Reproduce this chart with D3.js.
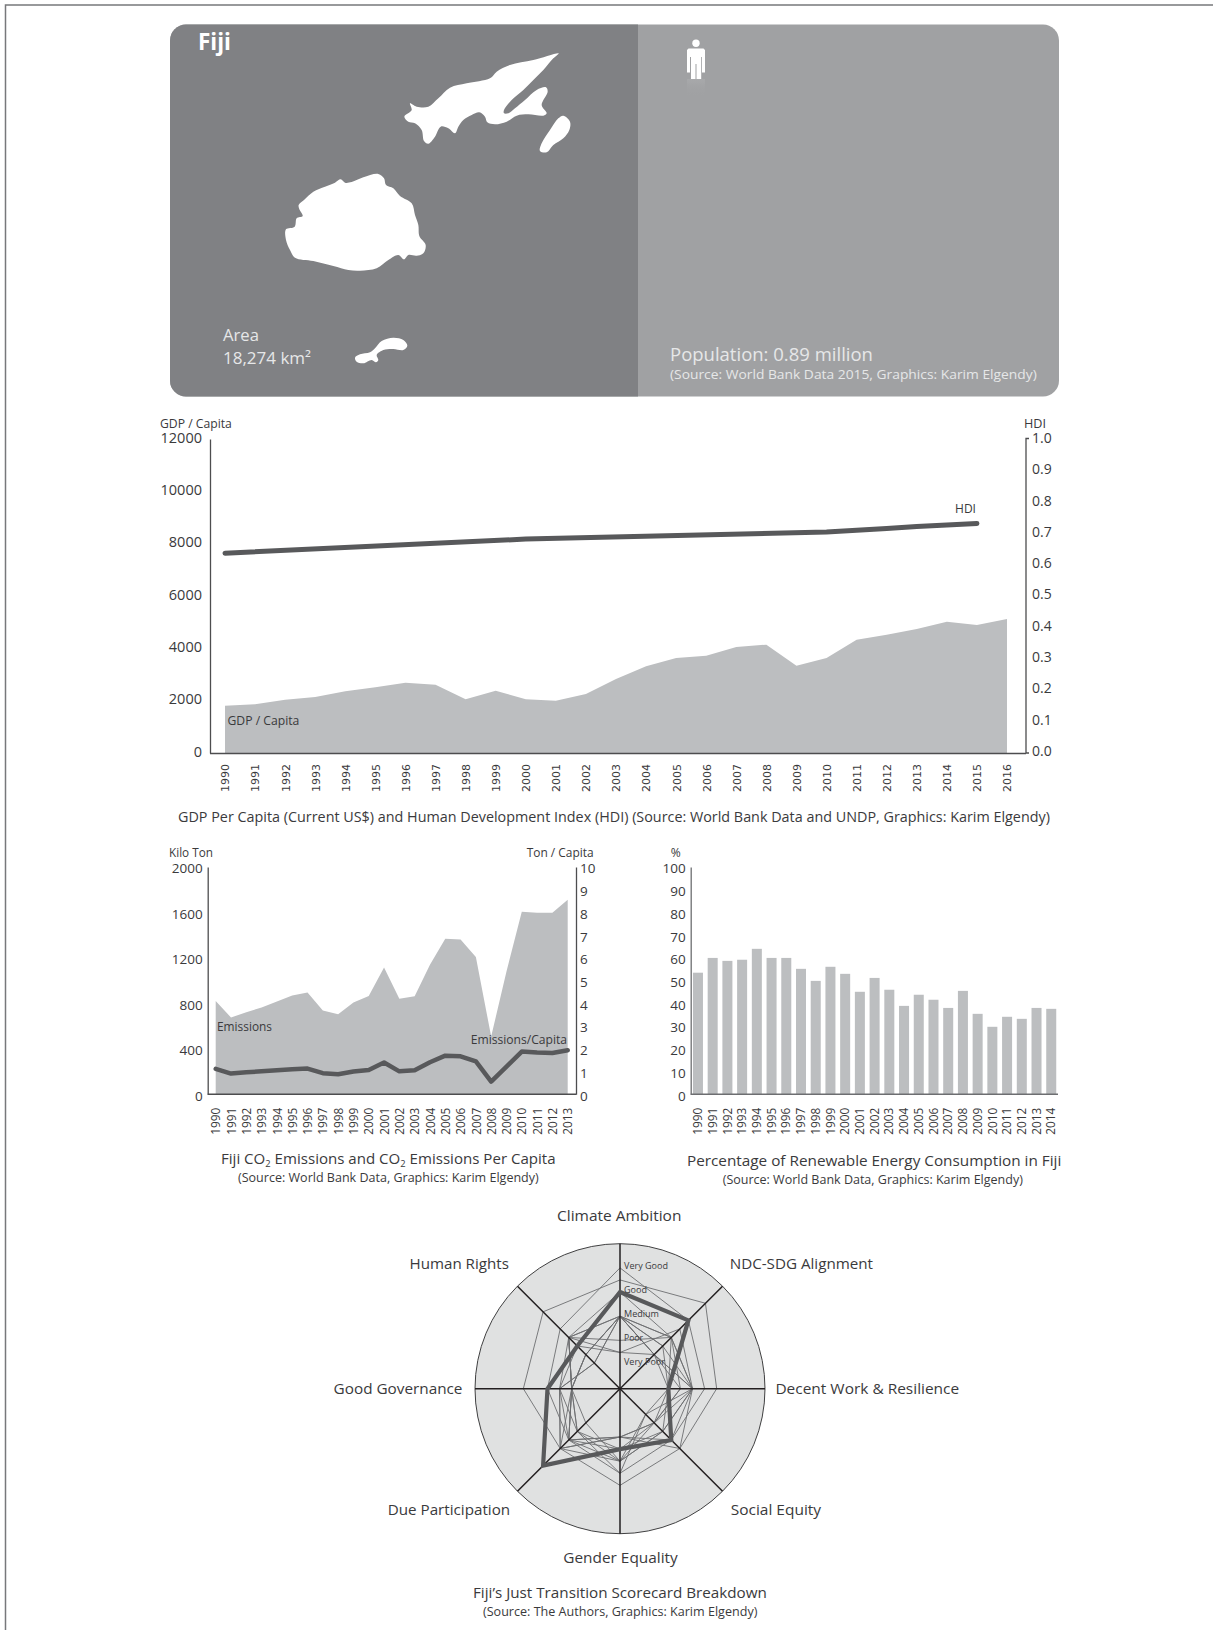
<!DOCTYPE html>
<html><head><meta charset="utf-8">
<script src="https://cdn.jsdelivr.net/npm/d3@7"></script>
<style>html,body{margin:0;padding:0;background:#fff}svg{display:block}</style>
</head><body><svg id="c" width="1213" height="1630" font-family="'Open Sans',sans-serif"></svg>
<script>
// ---------- data ----------
const gdpYears = d3.range(1990, 2017);
const gdpValues = [1809,1860,2038,2140,2357,2510,2688,2611,2051,2382,2051,2000,2255,2828,3312,3631,3720,4051,4140,3338,3631,4331,4522,4739,5019,4892,5121];
const hdiYears = [1990,2000,2010,2011,2012,2013,2014,2015];
const hdiValues = [0.632,0.677,0.700,0.705,0.711,0.717,0.722,0.727];
const co2Years = d3.range(1990, 2014);
const co2Values = [822,675,722,764,816,869,896,737,705,808,866,1116,840,863,1139,1369,1363,1207,508,1081,1606,1598,1598,1712];
const co2PerCapita = [1.12,0.91,0.97,1.01,1.06,1.10,1.13,0.93,0.88,1.00,1.07,1.40,1.01,1.06,1.41,1.70,1.67,1.45,0.56,1.22,1.88,1.84,1.82,1.94];
const renewYears = d3.range(1990, 2015);
const renewValues = [53.5,60,58.7,59.2,64,60,60,55.2,49.9,56.1,53,45.1,51.2,46,38.9,43.8,41.6,38,45.5,35.4,29.7,34.1,33.2,38,37.6];
const radarAxes = ["Climate Ambition","NDC-SDG Alignment","Decent Work & Resilience","Social Equity","Gender Equality","Due Participation","Good Governance","Human Rights"];
const radarLevels = ["Very Poor","Poor","Medium","Good","Very Good"];
const fijiScores = [4,4,2,3,2.5,4.5,3,2.5];
const otherScores = [
 [4.5,5,4,3.5,4,3.5,4,4.5],
 [5,4,3.5,3,3.5,3,3,3.5],
 [3,2.5,3,2.5,3,3.5,2.5,3],
 [3,2,2.5,2,2.5,2.5,2,2],
 [1.5,2,3,3,2,3.5,2.5,2.5],
 [3,3,2,2,3,2.5,2.5,1.5],
 [4,3,3,3.5,2,3,2,3],
 [3,2,2,1.5,3.5,2.5,2,3],
 [1.5,3.5,3,2.5,3,3,2,3],
 [3,2,3,2,2,3.5,2,2],
 [3,3,2.5,2,2,3,2,2],
 [3,2.5,2,2.5,2.5,3,2.5,1.5],
 [2,3,3,1.5,3,2,2,3]
];
// island outlines, in outline units
const vitiLevu = [[18,208],[44,200],[50,175],[68,168],[58,148],[56,135],[72,120],[100,95],[135,80],[165,68],[182,58],[195,68],[215,66],[250,52],[295,42],[312,55],[318,75],[340,85],[360,108],[395,130],[405,165],[415,195],[418,228],[437,255],[430,280],[410,287],[385,285],[372,298],[355,285],[325,300],[290,325],[240,332],[205,330],[160,318],[100,303],[45,293],[30,270],[18,240]];
const vanuaLevu = [[476,25],[460,40],[430,75],[400,105],[370,135],[335,165],[312,195],[312,205],[325,205],[345,190],[375,165],[410,135],[438,127],[443,140],[425,180],[440,205],[430,212],[385,208],[350,212],[320,230],[285,238],[262,232],[255,215],[238,202],[215,210],[190,225],[175,245],[165,265],[145,250],[122,245],[105,275],[85,296],[72,288],[65,255],[45,235],[25,230],[13,215],[35,195],[30,175],[50,185],[85,185],[115,160],[150,128],[200,115],[270,100],[290,80],[330,60],[400,45]];
const taveuni = [[490,212],[510,230],[508,255],[490,280],[460,300],[440,322],[420,318],[425,295],[450,255],[475,220]];
const kadavu = [[45,98],[60,88],[90,82],[105,70],[125,48],[160,38],[190,45],[202,62],[190,75],[160,72],[130,75],[110,90],[115,105],[108,112],[95,105],[70,115],[50,110]];

// ---------- helpers ----------
const INK="#3a3a3c", AREA="#bcbec0", DARK="#58595b";
const svg=d3.select("#c");
function T(parent,str,x,y,size,width,o={}){
  const t=parent.append("text").attr("font-size",size).attr("fill",o.fill||INK).attr("font-weight",o.weight||null);
  if(Array.isArray(str)) str.forEach(p=>{ if(p.sub){t.append("tspan").attr("font-size",size*0.62).attr("dy",size*0.2).text(p.sub);}
    else {t.append("tspan").attr("dy",p.up?-size*0.2:null).text(p.s);} });
  else t.text(str);
  const len=t.node().getComputedTextLength();
  t.attr("transform",`translate(${x},${y}) scale(${width?width/len:1},1)`);
  return t;
}
function styleAxis(g,size,dyShift,color){
  g.attr("font-family",null);
  g.select(".domain").attr("stroke",color||"#4d4d4f").attr("stroke-width",1.3);
  g.selectAll(".tick text").attr("font-size",size).attr("fill",INK).style("font-family","'Open Sans',sans-serif")
    .attr("transform",`translate(0,${dyShift||0})`);
}
function xYears(g,size,top,font){
  g.selectAll(".tick text").attr("font-size",size).attr("fill",INK).style("font-family",font)
   .attr("text-anchor","end").attr("dy","0.35em").attr("x",0).attr("y",0)
   .attr("transform",`translate(0,${top}) rotate(-90)`);
}

// ---------- frame ----------
svg.append("path").attr("d",d3.line()([[5.5,1630],[5.5,5],[1213,5]])).attr("fill","none").attr("stroke","#77787b").attr("stroke-width",1.5);

// ---------- header panel ----------
const defs=svg.append("defs");
defs.append("clipPath").attr("id","pc").append("rect").attr("x",170).attr("y",24.5).attr("width",889).attr("height",372).attr("rx",16);
const lg=defs.append("linearGradient").attr("id","ref").attr("x1",0).attr("y1",0).attr("x2",0).attr("y2",1);
lg.append("stop").attr("offset",0).attr("stop-color","#a8a9ab").attr("stop-opacity",1);
lg.append("stop").attr("offset",1).attr("stop-color","#a0a1a3").attr("stop-opacity",0);
const panel=svg.append("g").attr("clip-path","url(#pc)");
panel.append("rect").attr("x",170).attr("y",24).attr("width",889).attr("height",373).attr("fill","#a0a1a3");
panel.append("rect").attr("x",170).attr("y",24).attr("width",468).attr("height",373).attr("fill","#808184");

const u=d3.scaleLinear().domain([0,3]).range([0,1]);
const blob=d3.line().curve(d3.curveCatmullRomClosed.alpha(0.5));
[[vitiLevu,280,160],[vanuaLevu,400,45],[taveuni,400,45],[kadavu,340,325]].forEach(([pts,ox,oy])=>{
  svg.append("path").attr("d",blob(pts.map(p=>[ox+u(p[0]),oy+u(p[1])]))).attr("fill","#fff");
});

// person
const px=d3.scaleLinear().domain([0,50]).range([670,720]), py=d3.scaleLinear().domain([0,80]).range([30,110]);
const personHead=[26,13.3], personR=3.7;
const personBody=[[18.5,18.5],[33.5,18.5],[35,20],[35,42.5],[32,42.5],[32,27],[31.2,27],[31.2,49],[26.5,49],[26.5,34],[25.5,34],[25.5,49],[21,49],[21,27],[20,27],[20,42.5],[17,42.5],[17,20]];
svg.append("rect").attr("x",px(17)).attr("y",py(49)).attr("width",18).attr("height",18).attr("fill","url(#ref)");
svg.append("circle").attr("cx",px(personHead[0])).attr("cy",py(personHead[1])).attr("r",personR).attr("fill","#fff");
svg.append("path").attr("d",d3.line()(personBody.map(p=>[px(p[0]),py(p[1])]))+"Z").attr("fill","#fff");

T(svg,"Fiji",198,50,23,33,{fill:"#fff",weight:700});
T(svg,"Area",223,341,16,36,{fill:"#e6e7e8"});
T(svg,"18,274 km²",223,364,16,88,{fill:"#e6e7e8"});
T(svg,"Population: 0.89 million",670,361,18,203,{fill:"#e6e7e8"});
T(svg,"(Source: World Bank Data 2015, Graphics: Karim Elgendy)",670,379,13.5,367,{fill:"#e6e7e8"});

// ---------- GDP + HDI ----------
{
 const x=d3.scalePoint().domain(gdpYears).range([225,1007]);
 const yL=d3.scaleLinear().domain([0,12000]).range([753,439]);
 const yR=d3.scaleLinear().domain([0,1]).range([751,438]);
 svg.append("path").attr("d",d3.area().x((d,i)=>x(gdpYears[i])).y0(yL(0)).y1(d=>yL(d))(gdpValues)).attr("fill",AREA);
 svg.append("path").attr("d",d3.line().x((d,i)=>x(hdiYears[i])).y(d=>yR(d))(hdiValues)).attr("fill","none").attr("stroke",DARK).attr("stroke-width",5).attr("stroke-linecap","round");
 const al=svg.append("g").attr("transform","translate(210,0)").call(d3.axisLeft(yL).tickValues(d3.range(0,12001,2000)).tickFormat(d3.format("d")).tickSize(0).tickPadding(8));
 styleAxis(al,14.5,-1.5);
 const ar=svg.append("g").attr("transform","translate(1026,0)").call(d3.axisRight(yR).tickValues(d3.range(0,1.01,0.1)).tickFormat(d3.format(".1f")).tickSize(0).tickPadding(6));
 styleAxis(ar,14,0);
 ar.select(".domain").remove();
 svg.append("path").attr("d",d3.line()([[1029,438.5],[1026,438.5],[1026,753],[1029,753]])).attr("fill","none").attr("stroke","#4d4d4f").attr("stroke-width",1.3);
 const ab=svg.append("g").attr("transform","translate(0,753)").call(d3.axisBottom(x).tickFormat(d3.format("d")).tickSize(0));
 ab.select(".domain").attr("d",d3.line()([[210,0.5],[1026,0.5]])).attr("stroke","#4d4d4f").attr("stroke-width",1.5);
 xYears(ab,11,11,"'DejaVu Sans',sans-serif");
 T(svg,"GDP / Capita",160,428,12,72);
 T(svg,"HDI",1024,428,12,22);
 T(svg,"GDP / Capita",227.5,725,12,72);
 T(svg,"HDI",955,512.5,12,21);
 T(svg,"GDP Per Capita (Current US$) and Human Development Index (HDI) (Source: World Bank Data and UNDP, Graphics: Karim Elgendy)",178,822,15,873);
}

// ---------- CO2 ----------
{
 const x=d3.scalePoint().domain(co2Years).range([215.7,567.7]);
 const yL=d3.scaleLinear().domain([0,2000]).range([1094.3,867]);
 const yR=d3.scaleLinear().domain([0,10]).range([1094.3,867]);
 svg.append("path").attr("d",d3.area().x((d,i)=>x(co2Years[i])).y0(yL(0)).y1(d=>yL(d))(co2Values)).attr("fill",AREA);
 svg.append("path").attr("d",d3.line().x((d,i)=>x(co2Years[i])).y(d=>yR(d))(co2PerCapita)).attr("fill","none").attr("stroke",DARK).attr("stroke-width",4.5).attr("stroke-linejoin","round").attr("stroke-linecap","round");
 const al=svg.append("g").attr("transform","translate(207.7,0)").call(d3.axisLeft(yL).tickValues(d3.range(0,2001,400)).tickFormat(d3.format("d")).tickSize(0).tickPadding(5));
 styleAxis(al,13.5,1.5);
 const ar=svg.append("g").attr("transform","translate(576,0)").call(d3.axisRight(yR).tickValues(d3.range(0,11)).tickFormat(d3.format("d")).tickSize(0).tickPadding(4));
 styleAxis(ar,13.5,1.5);
 const ab=svg.append("g").attr("transform","translate(0,1094.3)").call(d3.axisBottom(x).tickFormat(d3.format("d")).tickSize(0));
 ab.select(".domain").attr("d",d3.line()([[207.7,0],[576,0]])).attr("stroke","#4d4d4f").attr("stroke-width",1.5);
 xYears(ab,11.8,13.5,"'Open Sans',sans-serif");
 T(svg,"Kilo Ton",169,856.5,12,44);
 T(svg,"Ton / Capita",526.7,856.5,12,67);
 T(svg,"Emissions",217,1030.5,12.5,55);
 T(svg,"Emissions/Capita",470.7,1044,12.5,96.5);
 T(svg,[{s:"Fiji CO"},{sub:"2"},{s:" Emissions and CO",up:1},{sub:"2"},{s:" Emissions Per Capita",up:1}],221,1164,15,335);
 T(svg,"(Source: World Bank Data, Graphics: Karim Elgendy)",238,1181.5,12,301);
}

// ---------- Renewables ----------
{
 const x=d3.scaleBand().domain(renewYears).range([690.6,1058.6]).paddingInner(0.32).paddingOuter(0.16);
 const y=d3.scaleLinear().domain([0,100]).range([1094.3,867]);
 svg.append("g").selectAll("rect").data(renewValues).join("rect")
  .attr("x",(d,i)=>x(renewYears[i])).attr("width",x.bandwidth()).attr("y",d=>y(d)).attr("height",d=>y(0)-y(d)).attr("fill",AREA);
 const al=svg.append("g").attr("transform","translate(690.7,0)").call(d3.axisLeft(y).tickValues(d3.range(0,101,10)).tickFormat(d3.format("d")).tickSize(0).tickPadding(5));
 styleAxis(al,13.5,1.5,"#6d6e71");
 const ab=svg.append("g").attr("transform","translate(0,1094.3)").call(d3.axisBottom(x).tickFormat(d3.format("d")).tickSize(0));
 ab.select(".domain").attr("d",d3.line()([[690.7,0],[1058,0]])).attr("stroke","#6d6e71").attr("stroke-width",1.5);
 xYears(ab,11.8,13.5,"'Open Sans',sans-serif");
 T(svg,"%",670.7,856.5,12,10);
 T(svg,"Percentage of Renewable Energy Consumption in Fiji",687,1165.5,15,374.7);
 T(svg,"(Source: World Bank Data, Graphics: Karim Elgendy)",722.7,1183.5,12,300.5);
}

// ---------- Radar ----------
{
 const cx=620, cy=1388.7;
 const r=d3.scaleLinear().domain([0,6]).range([0,145]);
 const ang=d3.scalePoint().domain(radarAxes).range([0,Math.PI*2*7/8]);
 const g=svg.append("g").attr("transform",`translate(${cx},${cy})`);
 g.append("circle").attr("r",r(6)).attr("fill","#e0e1e1").attr("stroke","#404041").attr("stroke-width",1);
 const radial=d3.lineRadial().curve(d3.curveLinearClosed).angle((d,i)=>ang(radarAxes[i])).radius(d=>r(d));
 g.selectAll(".other").data(otherScores).join("path").attr("class","other").attr("d",radial).attr("fill","none").attr("stroke","#6d6e71").attr("stroke-width",0.9);
 g.selectAll(".spoke").data(radarAxes).join("line").attr("class","spoke")
  .attr("x1",0).attr("y1",0)
  .attr("x2",d=>r(6)*Math.sin(ang(d))).attr("y2",d=>-r(6)*Math.cos(ang(d)))
  .attr("stroke","#231f20").attr("stroke-width",1.5);
 g.append("path").datum(fijiScores).attr("d",radial).attr("fill","none").attr("stroke",DARK).attr("stroke-width",4.2).attr("stroke-linejoin","miter");
 const lvlWidth={"Very Good":44,"Good":23,"Medium":35,"Poor":19,"Very Poor":41};
 const lvlY=d3.scaleLinear().domain([0,4]).range([1365,1268.7]);
 radarLevels.forEach((l,i)=>T(svg,l,624,lvlY(i),9.5,lvlWidth[l]));
 const lab=[["Climate Ambition",557,1220.5,124.5],["NDC-SDG Alignment",729.7,1268.5,143.5],["Decent Work & Resilience",775.4,1393.5,184],["Social Equity",730.7,1514.5,90.5],["Gender Equality",563.3,1562.5,114.5],["Due Participation",387.7,1514.5,122.5],["Good Governance",333.6,1393.5,129],["Human Rights",409.5,1268.5,99.5]];
 lab.forEach(l=>T(svg,l[0],l[1],l[2],15,l[3]));
 T(svg,"Fiji’s Just Transition Scorecard Breakdown",473,1598,15,294);
 T(svg,"(Source: The Authors, Graphics: Karim Elgendy)",483,1615.5,12,274.7);
}
</script></body></html>
